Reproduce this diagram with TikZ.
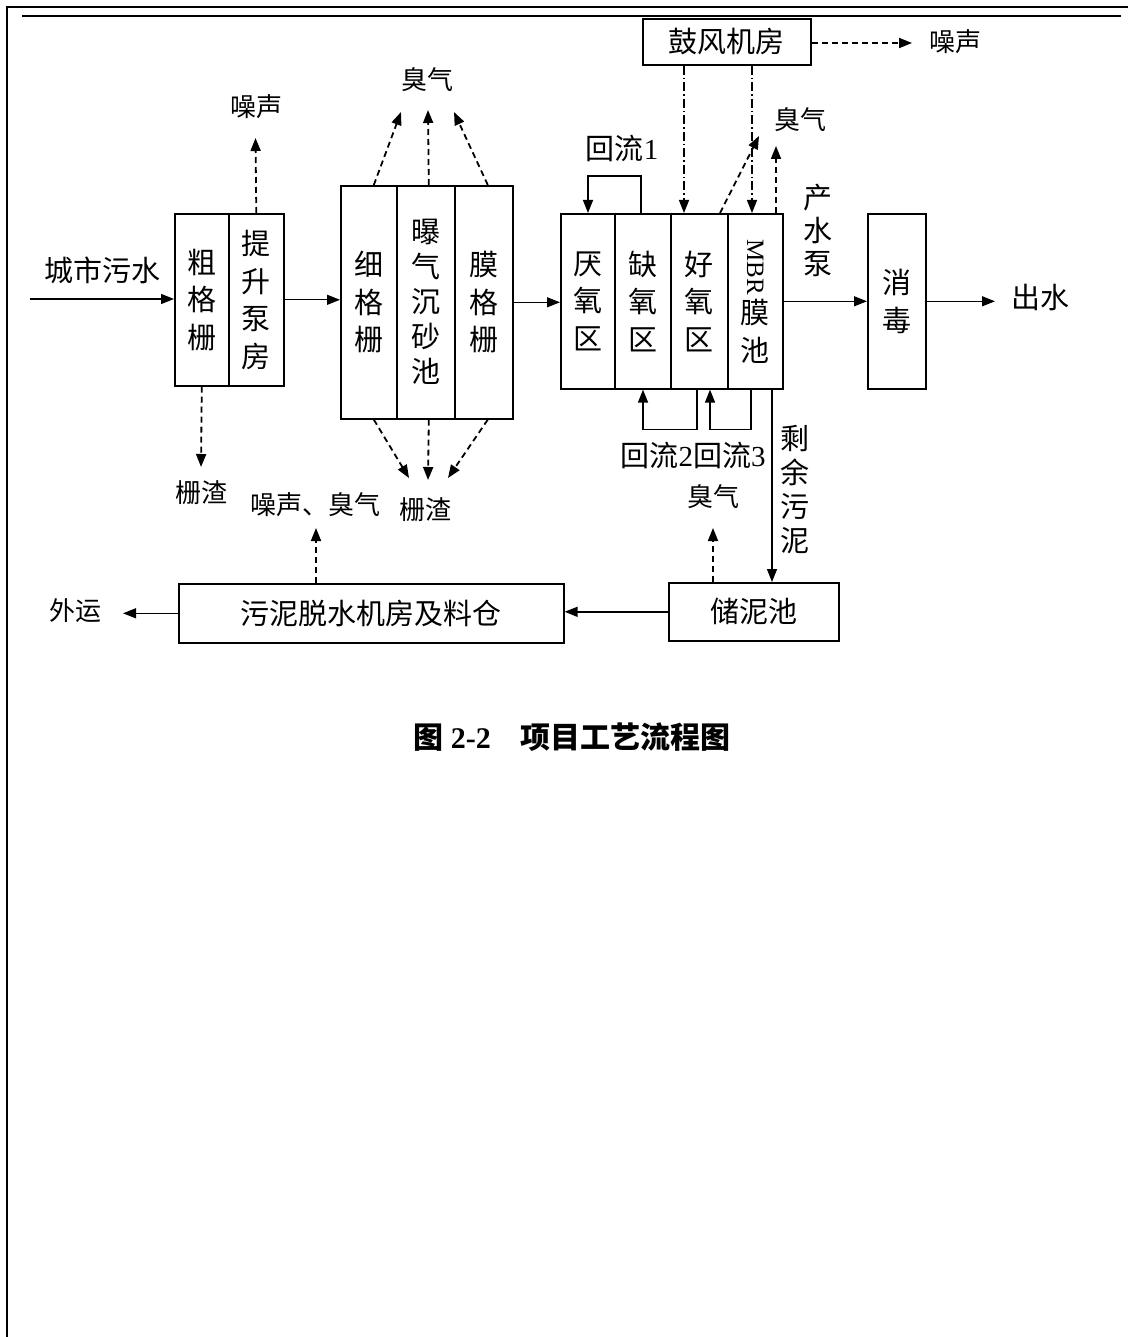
\documentclass[tikz,border=0pt]{standalone}
\usepackage{fontspec}
\setmainfont{Liberation Serif}
\newfontfamily\cjk{Noto Sans CJK SC}
\newfontfamily\latn{Liberation Serif}
\usetikzlibrary{arrows.meta,calc}
\newcommand\bxf{\cjk\fontsize{29}{37.5}\selectfont}
\newcommand\lbf{\cjk\fontsize{26}{30}\selectfont}
\begin{document}
\begin{tikzpicture}[x=1pt,y=-1pt,
  cell/.style={draw, line width=1.6pt, inner sep=0pt, anchor=north west, font=\bxf, align=center},
  lbl/.style={inner sep=0pt, font=\lbf},
  blbl/.style={inner sep=0pt, font=\bxf, align=center},
  arr/.style={-{Triangle[length=13pt,width=10pt]}, line width=1.4pt},
  dsh/.style={arr, line width=1.8pt, dash pattern=on 6pt off 4pt},
  ddot/.style={arr, line width=1.5pt, dash pattern=on 9pt off 3pt on 1.5pt off 3pt}]
\useasboundingbox (0,0) rectangle (1128,1337);
\fill[white] (0,0) rectangle (1128,1337);
% frame
\draw[line width=2.2pt] (7,1337) -- (7,7) -- (1128,7);
\draw[line width=1.6pt] (22,16) -- (1121,16);

% box A
\node[cell, minimum width=54, minimum height=172] (a1) at (174,213) {粗\\格\\栅};
\node[cell, minimum width=55, minimum height=172] (a2) at (228,213) {提\\升\\泵\\房};
% box B
\node[cell, minimum width=56, minimum height=233] (b1) at (340,185) {细\\格\\栅};
\node[cell, minimum width=58, minimum height=233, font=\cjk\fontsize{29}{35}\selectfont] (b2) at (396,185) {曝\\气\\沉\\砂\\池};
\node[cell, minimum width=58, minimum height=233] (b3) at (454,185) {膜\\格\\栅};
% box C
\node[cell, minimum width=54, minimum height=175] (c1) at (560,213) {厌\\氧\\区};
\node[cell, minimum width=56, minimum height=175] (c2) at (614,213) {缺\\氧\\区};
\node[cell, minimum width=57, minimum height=175] (c3) at (670,213) {好\\氧\\区};
\node[cell, minimum width=55, minimum height=175] (c4) at (727,213) {\rotatebox{-90}{\latn\fontsize{25}{25}\selectfont MBR}\\[3pt]膜\\池};
% disinfection
\node[cell, minimum width=58, minimum height=175] (xd) at (867,213) {消\\毒};
% blower
\node[cell, minimum width=168, minimum height=46] (bl) at (642,18) {鼓风机房};
% sludge
\node[cell, minimum width=170, minimum height=58] (st) at (668,582) {储泥池};
\node[cell, minimum width=385, minimum height=59] (dw) at (178,583) {污泥脱水机房及料仓};

% labels
\node[blbl] (in) at (102,270) {城市污水};
\node[lbl] (n1) at (256,107) {噪声};
\node[lbl] (z1) at (201,493) {栅渣};
\node[lbl] (q1) at (427,80) {臭气};
\node[lbl] (z2) at (425,510) {栅渣};
\node[lbl] (nq) at (315,505) {噪声、臭气};
\node[blbl] (h1) at (622,148) {回流{\latn 1}};
\node[lbl] (n2) at (955,42) {噪声};
\node[lbl] (q2) at (800,120) {臭气};
\node[blbl, font=\cjk\fontsize{29}{33}\selectfont] (cs) at (818,230) {产\\水\\泵};
\node[blbl] (cw) at (1040,298) {出水};
\node[blbl] (h23) at (693,455) {回流{\latn 2}回流{\latn 3}};
\node[blbl, font=\cjk\fontsize{29}{34}\selectfont] (sy) at (795,490) {剩\\余\\污\\泥};
\node[lbl] (q3) at (713,497) {臭气};
\node[lbl] (wy) at (75,611) {外运};
\node[inner sep=0pt, font=\fontsize{30}{34}\selectfont\bfseries] (tt) at (572,737)
  {{\cjk\bfseries 图} 2-2\hspace{30pt}{\cjk\bfseries 项目工艺流程图}};

% free ends
\coordinate (src) at (30,299);
\coordinate (n1e) at (255.5,138);
\coordinate (z1e) at (201,467);
\coordinate (q1a) at (401,112);
\coordinate (q1b) at (428,110);
\coordinate (q1c) at (454,112);
\coordinate (z2a) at (409,478);
\coordinate (z2b) at (428,480);
\coordinate (z2c) at (448,478);
\coordinate (n2e) at (912,43);
\coordinate (q2a) at (759,136);
\coordinate (q2b) at (776,146);
\coordinate (cwe) at (995,300);
\coordinate (nqe) at (316,528);
\coordinate (q3e) at (713,528);
\coordinate (wye) at (123,611);

% main flow
\draw[arr] (src) -- (src -| a1.west);
\draw[arr] (a2.east) -- (a2.east -| b1.west);
\draw[arr] (b3.east) -- (b3.east -| c1.west);
\draw[arr] (c4.east) -- (c4.east -| xd.west);
\draw[arr] (xd.east) -- (xd.east -| cwe);

% emissions A
\draw[dsh] (a2.north) -- (n1e);
\draw[dsh] (a1.south) -- (z1e);
% emissions B
\draw[dsh] ($(b1.north)+(5,0)$) -- (q1a);
\draw[dsh] ($(b2.north)+(3,0)$) -- (q1b);
\draw[dsh] ($(b3.north)+(4,0)$) -- (q1c);
\draw[dsh] ($(b1.south)+(5,0)$) -- (z2a);
\draw[dsh] ($(b2.south)+(3,0)$) -- (z2b);
\draw[dsh] ($(b3.south)+(4,0)$) -- (z2c);

% blower
\draw[ddot] (bl.south -| 684,0) -- (c3.north -| 684,0);
\draw[ddot] (bl.south -| 752,0) -- (c4.north -| 752,0);
\draw[dsh] (bl.east |- n2e) -- (n2e);
% odour C
\draw[dsh] (c3.north -| 720,0) -- (q2a);
\draw[dsh] (c4.north -| 776,0) -- (q2b);

% recirculations
\draw[arr] (c2.north -| 641,0) -- ++(0,-37) -| (c1.north -| 588,0);
\draw[arr] (c3.south -| 697,0) -- ++(0,40) -| (c2.south -| 643,0);
\draw[arr] (c4.south -| 751,0) -- ++(0,40) -| (c3.south -| 710,0);

% sludge
\draw[arr] (c4.south -| 772,0) -- (st.north -| 772,0);
\draw[dsh] (st.north -| 713,0) -- (q3e);
\draw[arr] (st.west) -- (st.west -| dw.east);
\draw[dsh] (dw.north -| 316,0) -- (nqe);
\draw[arr] (dw.west) -- (dw.west -| wye);
\end{tikzpicture}
\end{document}
